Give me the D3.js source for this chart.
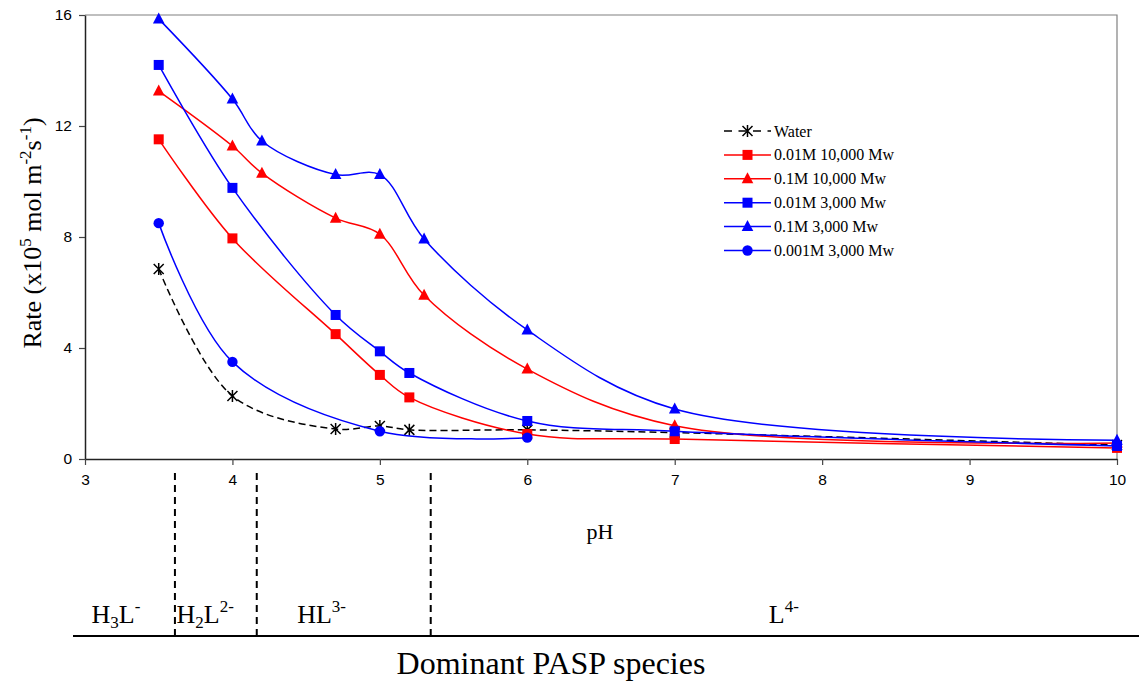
<!DOCTYPE html>
<html>
<head>
<meta charset="utf-8">
<script src="https://cdn.jsdelivr.net/npm/d3@7"></script>
<style>
  html, body { margin: 0; padding: 0; background: #fff; }
  svg { display: block; }
</style>
</head>
<body>
<svg id="chart" width="1139" height="682"></svg>
<script>
// ---- data -------------------------------------------------------------
const waterPH   = [3.5, 4.0, 4.7, 5.0, 5.2, 6.0, 7.0, 10.0];
const waterRate = [6.85, 2.27, 1.08, 1.19, 1.05, 1.05, 0.95, 0.5];

const sq10kPH   = [3.5, 4.0, 4.7, 5.0, 5.2, 6.0, 7.0, 10.0];
const sq10kRate = [11.52, 7.95, 4.5, 3.03, 2.22, 0.9, 0.72, 0.4];

const tri10kPH   = [3.5, 4.0, 4.2, 4.7, 5.0, 5.3, 6.0, 7.0, 10.0];
const tri10kRate = [13.26, 11.28, 10.3, 8.68, 8.1, 5.9, 3.24, 1.2, 0.58];

const sq3kPH   = [3.5, 4.0, 4.7, 5.0, 5.2, 6.0, 7.0, 10.0];
const sq3kRate = [14.2, 9.77, 5.19, 3.88, 3.1, 1.37, 1.0, 0.47];

const tri3kPH   = [3.5, 4.0, 4.2, 4.7, 5.0, 5.3, 6.0, 7.0, 10.0];
const tri3kRate = [15.86, 12.97, 11.46, 10.25, 10.25, 7.93, 4.65, 1.8, 0.68];

const circ3kPH   = [3.5, 4.0, 5.0, 6.0];
const circ3kRate = [8.5, 3.5, 1.0, 0.77];

const seriesNames = ["Water", "0.01M 10,000 Mw", "0.1M 10,000 Mw",
                     "0.01M 3,000 Mw", "0.1M 3,000 Mw", "0.001M 3,000 Mw"];

const xTicks = [3, 4, 5, 6, 7, 8, 9, 10];
const yTicks = [0, 4, 8, 12, 16];

// pH boundaries between dominant species, and where each species label sits
const speciesBounds = [3.61, 4.165, 5.345];
const speciesPos    = [3.21, 3.815, 4.605, 7.74];

// ---- layout -----------------------------------------------------------
const svg = d3.select("#chart");
const X0 = 85, X1 = 1117, Y0 = 459, Y1 = 15;
const x = d3.scaleLinear().domain([3, 10]).range([X0, X1]);
const y = d3.scaleLinear().domain([0, 16]).range([Y0, Y1]);

const RED = "#ff0000", BLUE = "#0000ff";
const serif = "'Liberation Serif', 'Times New Roman', serif";

const series = [
  { name: seriesNames[0], ph: waterPH,  rate: waterRate,  color: "#000", marker: "star",     dash: "7,4" },
  { name: seriesNames[1], ph: sq10kPH,  rate: sq10kRate,  color: RED,    marker: "square" },
  { name: seriesNames[2], ph: tri10kPH, rate: tri10kRate, color: RED,    marker: "triangle" },
  { name: seriesNames[3], ph: sq3kPH,   rate: sq3kRate,   color: BLUE,   marker: "square" },
  { name: seriesNames[4], ph: tri3kPH,  rate: tri3kRate,  color: BLUE,   marker: "triangle" },
  { name: seriesNames[5], ph: circ3kPH, rate: circ3kRate, color: BLUE,   marker: "circle" }
];

// plot frame (top and right edges)
svg.append("path")
  .attr("d", `M${X0},${Y1}H${X1}V${Y0}`)
  .attr("fill", "none").attr("stroke", "#808080").attr("stroke-width", 1.2);

// axes
const yAxis = svg.append("g").attr("transform", `translate(${X0},0)`)
  .call(d3.axisLeft(y).tickValues(yTicks).tickFormat(d3.format("d"))
    .tickSize(6).tickPadding(7).tickSizeOuter(0));
const xAxis = svg.append("g").attr("transform", `translate(0,${Y0})`)
  .call(d3.axisBottom(x).tickValues(xTicks).tickFormat(d3.format("d"))
    .tickSize(6).tickPadding(9).tickSizeOuter(0));

[yAxis, xAxis].forEach(g => {
  g.select(".domain").attr("stroke", "#222").attr("stroke-width", 1.5);
  g.selectAll(".tick line").attr("stroke", "#444").attr("stroke-width", 1.2);
  g.selectAll("text").attr("font-family", "'Liberation Sans', Arial, sans-serif")
    .attr("font-size", 15.5).attr("fill", "#000");
});

// marker shapes
function drawMarker(g, type, color, cx, cy) {
  if (type === "square") {
    g.append("rect").attr("x", cx - 5).attr("y", cy - 5).attr("width", 10).attr("height", 10)
      .attr("fill", color);
  } else if (type === "triangle") {
    g.append("path").attr("d", `M${cx},${cy - 6.5}L${cx + 5.8},${cy + 4.5}L${cx - 5.8},${cy + 4.5}Z`)
      .attr("fill", color);
  } else if (type === "circle") {
    g.append("circle").attr("cx", cx).attr("cy", cy).attr("r", 5.2).attr("fill", color);
  } else if (type === "star") {
    const r = 5;
    g.append("path")
      .attr("d", `M${cx - r},${cy - r}L${cx + r},${cy + r}M${cx - r},${cy + r}L${cx + r},${cy - r}M${cx},${cy - r - 1}V${cy + r + 1}`)
      .attr("stroke", color).attr("stroke-width", 1.5).attr("fill", "none");
  }
}

// smoothed series lines with markers
const line = d3.line().curve(d3.curveCatmullRom.alpha(0.5))
  .x(d => x(d[0])).y(d => y(d[1]));

series.forEach(s => {
  const pts = s.ph.map((p, i) => [p, s.rate[i]]);
  svg.append("path").datum(pts).attr("d", line)
    .attr("fill", "none").attr("stroke", s.color).attr("stroke-width", 1.5)
    .attr("stroke-dasharray", s.dash || null);
  const mg = svg.append("g");
  pts.forEach(p => drawMarker(mg, s.marker, s.color, x(p[0]), y(p[1])));
});

// legend
const legend = svg.append("g").attr("transform", "translate(724,131)");
series.forEach((s, i) => {
  const g = legend.append("g").attr("transform", `translate(0,${i * 23.9})`);
  g.append("line").attr("x1", 0).attr("x2", 47).attr("y1", 0).attr("y2", 0)
    .attr("stroke", s.color).attr("stroke-width", 1.5)
    .attr("stroke-dasharray", s.dash ? "8,6.5" : null);
  drawMarker(g, s.marker, s.color, 23.5, 0);
  g.append("text").attr("x", 50).attr("y", 5.5)
    .attr("font-family", serif).attr("font-size", 16).text(s.name);
});

// axis titles
svg.append("text").attr("x", 600).attr("y", 539).attr("text-anchor", "middle")
  .attr("font-family", serif).attr("font-size", 22).text("pH");

const yt = svg.append("text")
  .attr("transform", "translate(41,233) rotate(-90)")
  .attr("text-anchor", "middle").attr("font-family", serif).attr("font-size", 26);
const supSize = 17, supUp = 10;
yt.append("tspan").text("Rate (x10");
yt.append("tspan").attr("dy", -supUp).attr("font-size", supSize).text("5");
yt.append("tspan").attr("dy", supUp).text(" mol m");
yt.append("tspan").attr("dy", -supUp).attr("font-size", supSize).text("-2");
yt.append("tspan").attr("dy", supUp).text("s");
yt.append("tspan").attr("dy", -supUp).attr("font-size", supSize).text("-1");
yt.append("tspan").attr("dy", supUp).text(")");

// dominant species band
svg.append("line").attr("x1", 73).attr("x2", 1139).attr("y1", 636).attr("y2", 636)
  .attr("stroke", "#000").attr("stroke-width", 2);

speciesBounds.forEach(b => {
  svg.append("line").attr("x1", x(b)).attr("x2", x(b)).attr("y1", 473).attr("y2", 638)
    .attr("stroke", "#000").attr("stroke-width", 2).attr("stroke-dasharray", "7,5");
});

const speciesParts = [
  [["H", 0], ["3", 1], ["L", 0], ["-", 2]],
  [["H", 0], ["2", 1], ["L", 0], ["2-", 2]],
  [["H", 0], ["L", 0], ["3-", 2]],
  [["L", 0], ["4-", 2]]
];
speciesParts.forEach((parts, i) => {
  const t = svg.append("text").attr("x", x(speciesPos[i])).attr("y", 623)
    .attr("text-anchor", "middle").attr("font-family", serif).attr("font-size", 26);
  let shift = 0;
  parts.forEach(([txt, kind]) => {
    const target = kind === 1 ? 5 : kind === 2 ? -11 : 0;
    t.append("tspan").attr("dy", target - shift)
      .attr("font-size", kind ? 17 : 26).text(txt);
    shift = target;
  });
});

svg.append("text").attr("x", 551).attr("y", 674).attr("text-anchor", "middle")
  .attr("font-family", serif).attr("font-size", 32).text("Dominant PASP species");
</script>
</body>
</html>
